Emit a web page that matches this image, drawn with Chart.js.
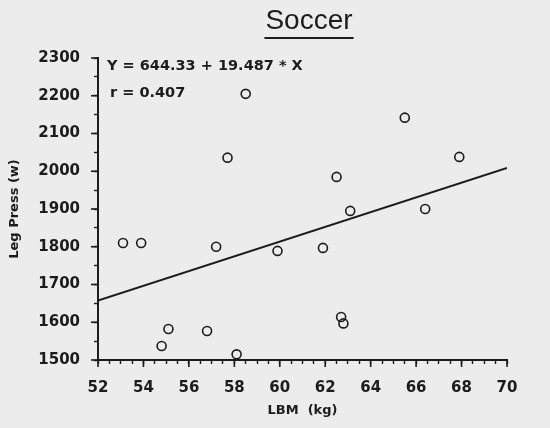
<!DOCTYPE html>
<html>
<head>
<meta charset="utf-8">
<script src="https://cdn.jsdelivr.net/npm/chart.js@4/dist/chart.umd.min.js"></script>
<style>
  html, body { margin: 0; padding: 0; background: #ececec; }
  canvas { display: block; }
</style>
</head>
<body>
<canvas id="chart" width="550" height="428"></canvas>
<script>
const lbm = [53.1, 53.9, 54.8, 55.1, 56.8, 57.2, 57.7, 58.1, 58.5, 59.9, 61.9, 62.5, 62.7, 62.8, 63.1, 65.5, 66.4, 67.9];
const legPress = [1810, 1810, 1537, 1582, 1577, 1800, 2036, 1515, 2205, 1789, 1797, 1985, 1614, 1597, 1895, 2142, 1900, 2038];
const fitX = [52, 70];
const intercept = 644.33;
const slope = 19.487;
const rValue = 0.407;
const xTicks = [52, 54, 56, 58, 60, 62, 64, 66, 68, 70];
const yTicks = [1500, 1600, 1700, 1800, 1900, 2000, 2100, 2200, 2300];

const ink = "#1c1c1c";
const tickFont = { family: "DejaVu Sans", weight: "bold", size: 15 };

const points = lbm.map((x, i) => ({ x: x, y: legPress[i] }));
const fitLine = fitX.map(x => ({ x: x, y: intercept + slope * x }));

// title, fit equation and longer major ticks
const extras = {
  id: "extras",
  afterDraw(chart) {
    const ctx = chart.ctx;
    const area = chart.chartArea;
    const xs = chart.scales.x, ys = chart.scales.y;
    ctx.save();
    ctx.strokeStyle = ink;
    ctx.lineWidth = 1.6;
    xTicks.forEach(v => {
      const px = xs.getPixelForValue(v);
      ctx.beginPath(); ctx.moveTo(px, area.bottom); ctx.lineTo(px, area.bottom + 7); ctx.stroke();
    });
    yTicks.forEach(v => {
      const py = ys.getPixelForValue(v);
      ctx.beginPath(); ctx.moveTo(area.left, py); ctx.lineTo(area.left - 7, py); ctx.stroke();
    });

    ctx.fillStyle = ink;
    ctx.font = "28px 'Liberation Sans'";
    ctx.textAlign = "center";
    ctx.textBaseline = "alphabetic";
    ctx.fillText("Soccer", 309, 29);
    const w = ctx.measureText("Soccer").width;
    ctx.lineWidth = 2;
    ctx.beginPath(); ctx.moveTo(309 - w / 2 - 1, 38); ctx.lineTo(309 + w / 2 + 1, 38); ctx.stroke();

    ctx.font = "bold 14.5px 'DejaVu Sans'";
    ctx.textAlign = "left";
    ctx.textBaseline = "middle";
    ctx.fillText("Y = " + intercept.toFixed(2) + " + " + slope.toFixed(3) + " * X", 107, 66);
    ctx.fillText("r = " + rValue.toFixed(3), 110, 93);
    ctx.restore();
  }
};

new Chart(document.getElementById("chart"), {
  type: "scatter",
  data: {
    datasets: [
      {
        label: "Soccer",
        data: points,
        pointRadius: 4.5,
        pointHoverRadius: 4.5,
        pointBorderWidth: 1.6,
        pointBorderColor: ink,
        pointBackgroundColor: "rgba(0,0,0,0)",
        showLine: false
      },
      {
        label: "fit",
        type: "line",
        data: fitLine,
        borderColor: ink,
        borderWidth: 2,
        pointRadius: 0,
        fill: false
      }
    ]
  },
  options: {
    responsive: false,
    animation: false,
    layout: { padding: { top: 58, left: 0, right: 43, bottom: 0 } },
    plugins: { legend: { display: false }, title: { display: false }, tooltip: { enabled: false } },
    scales: {
      x: {
        type: "linear",
        min: 52,
        max: 70,
        afterFit: s => { s.height = 68; },
        border: { display: true, color: ink, width: 2 },
        grid: { drawOnChartArea: false, drawTicks: true, tickLength: 4, color: ink, tickWidth: 1.4 },
        ticks: {
          stepSize: 0.5,
          autoSkip: false,
          maxRotation: 0,
          padding: 15,
          color: ink,
          font: tickFont,
          callback: v => (xTicks.includes(v) ? v : "")
        },
        title: {
          display: true,
          text: "LBM  (kg)",
          color: ink,
          font: { family: "DejaVu Sans", weight: "bold", size: 13 },
          padding: { top: 10, bottom: 10 }
        }
      },
      y: {
        type: "linear",
        min: 1500,
        max: 2300,
        afterFit: s => { s.width = 98; },
        border: { display: true, color: ink, width: 2 },
        grid: { drawOnChartArea: false, drawTicks: true, tickLength: 4, color: ink, tickWidth: 1.4 },
        ticks: {
          stepSize: 50,
          autoSkip: false,
          padding: 14,
          color: ink,
          font: tickFont,
          callback: v => (yTicks.includes(v) ? v : "")
        },
        title: {
          display: true,
          text: "Leg Press (w)",
          color: ink,
          font: { family: "DejaVu Sans", weight: "bold", size: 13 },
          padding: { top: 7, bottom: 7 }
        }
      }
    }
  },
  plugins: [extras]
});
</script>
</body>
</html>
